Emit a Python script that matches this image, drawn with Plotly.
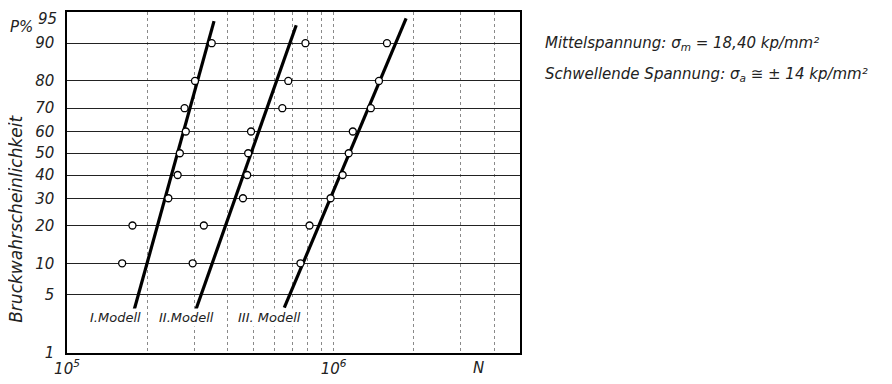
import math
import plotly.graph_objects as go
from statistics import NormalDist

# ---------------- data ----------------
p_levels = [10, 20, 30, 40, 50, 60, 70, 80, 90]           # Bruchwahrscheinlichkeit in %
model1_N = [1.61e5, 1.76e5, 2.40e5, 2.60e5, 2.65e5, 2.79e5, 2.76e5, 3.02e5, 3.49e5]
model2_N = [2.96e5, 3.26e5, 4.57e5, 4.74e5, 4.78e5, 4.90e5, 6.42e5, 6.76e5, 7.84e5]
model3_N = [7.51e5, 8.12e5, 9.74e5, 1.081e6, 1.139e6, 1.18e6, 1.379e6, 1.479e6, 1.585e6]

# fitted straight lines (end points: N, P%)
line1_N, line1_P = [1.776e5, 3.56e5], [3.2, 93.8]
line2_N, line2_P = [3.04e5, 7.24e5], [3.4, 93.2]
line3_N, line3_P = [6.53e5, 1.87e6], [3.6, 94.2]

model_labels = ["I.Modell", "II.Modell", "III. Modell"]
label_N = [1.52e5, 2.81e5, 5.74e5]
label_P = 2.76

y_ticks = [1, 5, 10, 20, 30, 40, 50, 60, 70, 80, 90, 95]
top_tick = 95   # drawn as a separate label so that it is not clipped at the page top
x_grid = [2e5, 3e5, 4e5, 5e5, 6e5, 7e5, 8e5, 9e5, 2e6, 3e6, 4e6]
x_labeled = {1e5: "10<sup>5</sup>", 1e6: "10<sup>6</sup>"}
x_min, x_max = 1e5, 5e6

# ---------------- probability scale ----------------
nd = NormalDist()
def z(p):
    return nd.inv_cdf(p / 100.0)

FONT = "DejaVu Sans"
fig = go.Figure()

for lx, lp in [(line1_N, line1_P), (line2_N, line2_P), (line3_N, line3_P)]:
    fig.add_trace(go.Scatter(x=lx, y=[z(p) for p in lp], mode="lines",
                             line=dict(color="black", width=3.2), showlegend=False,
                             hoverinfo="skip"))

for ns in [model1_N, model2_N, model3_N]:
    fig.add_trace(go.Scatter(x=ns, y=[z(p) for p in p_levels], mode="markers",
                             marker=dict(symbol="circle", size=7, color="white",
                                         line=dict(color="black", width=1.3)),
                             showlegend=False))

tickvals_x = [1e5, 1e6] + x_grid
ticktext_x = [x_labeled.get(v, "") for v in tickvals_x]

tick_font = dict(family=FONT, size=15, color="#222", style="italic")

fig.update_xaxes(type="log", range=[math.log10(x_min), math.log10(x_max)],
                 tickvals=tickvals_x, ticktext=ticktext_x,
                 showgrid=True, gridcolor="#8a8a8a", griddash="dot", gridwidth=1,
                 showline=True, linecolor="black", linewidth=1.5, mirror=True,
                 ticks="", zeroline=False, ticklabelstandoff=1,
                 ticklabeloverflow="allow", automargin=False,
                 tickfont=tick_font)

fig.update_yaxes(range=[z(1), z(95)],
                 tickvals=[z(p) for p in y_ticks],
                 ticktext=["" if p == top_tick else str(p) for p in y_ticks],
                 showgrid=True, gridcolor="#222", gridwidth=1.1,
                 showline=True, linecolor="black", linewidth=1.5, mirror=True,
                 ticks="", zeroline=False, ticklabelstandoff=8,
                 ticklabeloverflow="allow", automargin=False,
                 tickfont=tick_font)

# label of the top tick, nudged just inside the page
fig.add_annotation(x=-0.0195, y=0.98, xref="paper", yref="paper",
                   xanchor="right", yanchor="middle", text=str(top_tick),
                   showarrow=False, font=tick_font, borderpad=0)

# solid line at 10^6
fig.add_shape(type="line", xref="x", yref="paper", x0=6, x1=6, y0=0, y1=1,
              line=dict(color="#333", width=1.2))

for t, xn in zip(model_labels, label_N):
    fig.add_annotation(x=math.log10(xn), y=z(label_P), xref="x", yref="y", text=t,
                       showarrow=False, xanchor="center", yanchor="middle",
                       font=dict(family=FONT, size=13, color="#222", style="italic"),
                       bgcolor="white")

ann_font = dict(family=FONT, size=15, color="#222", style="italic")
fig.add_annotation(x=math.log10(3.5e6), y=-0.045, xref="x", yref="paper",
                   xanchor="center", yanchor="middle", borderpad=0,
                   text="N", showarrow=False, font=ann_font)
fig.add_annotation(x=-0.07, y=0.956, xref="paper", yref="paper",
                   xanchor="right", yanchor="middle",
                   text="P%", showarrow=False, font=ann_font)
fig.add_annotation(x=-0.113, y=0.393, xref="paper", yref="paper", textangle=-90,
                   xanchor="center", yanchor="middle",
                   text="Bruckwahrscheinlichkeit", showarrow=False,
                   font=dict(family=FONT, size=17, color="#222", style="italic"))

fig.add_annotation(x=1.051, y=0.909, xref="paper", yref="paper",
                   xanchor="left", yanchor="middle",
                   text="Mittelspannung: σ<sub>m</sub> = 18,40 kp/mm²", showarrow=False,
                   font=ann_font)
fig.add_annotation(x=1.051, y=0.818, xref="paper", yref="paper",
                   xanchor="left", yanchor="middle",
                   text="Schwellende Spannung: σ<sub>a</sub> ≅ ± 14 kp/mm²", showarrow=False,
                   font=ann_font)

# page body adds an 8 px margin: size the figure so that it fits the 892x384 window
fig.update_layout(width=876, height=368, margin=dict(l=59, r=364, t=4, b=23, autoexpand=False),
                  paper_bgcolor="white", plot_bgcolor="white",
                  font=dict(family=FONT, color="#222"))

fig.write_html("out.html")
